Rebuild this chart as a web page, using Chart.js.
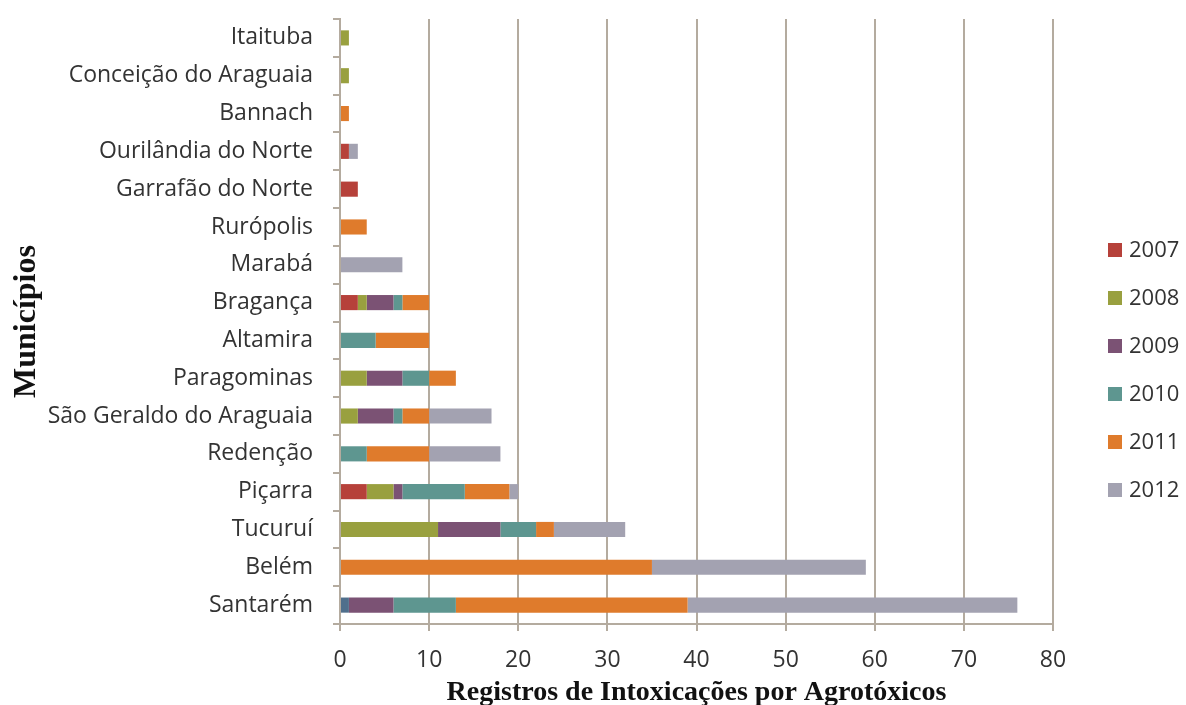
<!DOCTYPE html>
<html>
<head>
<meta charset="utf-8">
<script src="https://cdn.jsdelivr.net/npm/chart.js@4"></script>
<style>
  html, body { margin: 0; padding: 0; background: #ffffff; }
  #wrap { width: 1186px; height: 705px; }
</style>
</head>
<body>
<div id="wrap"><canvas id="c" width="1186" height="705"></canvas></div>
<script>
// Municípios (top to bottom)
const municipios = [
  'Itaituba', 'Conceição do Araguaia', 'Bannach', 'Ourilândia do Norte',
  'Garrafão do Norte', 'Rurópolis', 'Marabá', 'Bragança', 'Altamira',
  'Paragominas', 'São Geraldo do Araguaia', 'Redenção', 'Piçarra',
  'Tucuruí', 'Belém', 'Santarém'
];

// Registros por ano
const semAno = [0, 0, 0, 0, 0, 0, 0, 0, 0, 0, 0, 0, 0, 0, 0, 1];
const v2007  = [0, 0, 0, 1, 2, 0, 0, 2, 0, 0, 0, 0, 3, 0, 0, 0];
const v2008  = [1, 1, 0, 0, 0, 0, 0, 1, 0, 3, 2, 0, 3, 11, 0, 0];
const v2009  = [0, 0, 0, 0, 0, 0, 0, 3, 0, 4, 4, 0, 1, 7, 0, 5];
const v2010  = [0, 0, 0, 0, 0, 0, 0, 1, 4, 3, 1, 3, 7, 4, 0, 7];
const v2011  = [0, 0, 1, 0, 0, 3, 0, 3, 6, 3, 3, 7, 5, 2, 35, 26];
const v2012  = [0, 0, 0, 1, 0, 0, 7, 0, 0, 0, 7, 8, 1, 8, 24, 37];

const anos = ['2007', '2008', '2009', '2010', '2011', '2012'];
const xTicks = [0, 10, 20, 30, 40, 50, 60, 70, 80];

const cores = {
  semAno: '#4f6f8c',
  '2007': '#b6413a',
  '2008': '#99a03f',
  '2009': '#7b5274',
  '2010': '#5e9690',
  '2011': '#df7b2c',
  '2012': '#a3a2b1'
};

const gridColor = '#b4ab9f';
const labelFont = '"Open Sans", "Noto Sans", sans-serif';
const titleFont = '"Liberation Serif", "DejaVu Serif", serif';

const series = [semAno, v2007, v2008, v2009, v2010, v2011, v2012];
const nomes = ['sem ano', ...anos];

const datasets = series.map((vals, i) => ({
  label: nomes[i],
  data: vals,
  backgroundColor: cores[i === 0 ? 'semAno' : nomes[i]],
  borderWidth: 0,
  categoryPercentage: 1.0,
  barPercentage: 0.4
}));

// Legend drawn at the right of the plot
const sideLegend = {
  id: 'sideLegend',
  afterDraw(chart) {
    const ctx = chart.ctx;
    ctx.save();
    ctx.font = '22px ' + labelFont;
    ctx.textBaseline = 'middle';
    ctx.textAlign = 'left';
    let row = 0;
    chart.data.datasets.forEach(ds => {
      if (!anos.includes(ds.label)) return;
      const cy = 250 + row * 48;
      ctx.fillStyle = ds.backgroundColor;
      ctx.fillRect(1108, cy - 7, 14, 14);
      ctx.fillStyle = '#333333';
      ctx.fillText(ds.label, 1129, cy + 1);
      row++;
    });
    ctx.restore();
  }
};

new Chart(document.getElementById('c'), {
  type: 'bar',
  data: { labels: municipios, datasets },
  plugins: [sideLegend],
  options: {
    indexAxis: 'y',
    responsive: false,
    animation: false,
    devicePixelRatio: 1,
    layout: { padding: { top: 19, right: 133, left: 0, bottom: 0 } },
    plugins: {
      legend: { display: false },
      tooltip: { enabled: false }
    },
    scales: {
      x: {
        stacked: true,
        min: 0,
        max: 80,
        afterBuildTicks(scale) { scale.ticks = xTicks.map(v => ({ value: v })); },
        afterFit(scale) { scale.height = 81; scale.paddingLeft = 0; scale.paddingRight = 0; },
        grid: { color: gridColor, lineWidth: 2, tickLength: 7, drawTicks: true },
        border: { display: true, color: gridColor, width: 2 },
        ticks: { color: '#333333', font: { family: labelFont, size: 23 }, padding: 16 },
        title: {
          display: true,
          text: 'Registros de Intoxicações por Agrotóxicos',
          color: '#111111',
          font: { family: titleFont, size: 28, weight: 'bold', lineHeight: 0.9 },
          padding: { top: 0, bottom: 0 }
        }
      },
      y: {
        stacked: true,
        afterFit(scale) { scale.width = 340; scale.paddingTop = 0; scale.paddingBottom = 0; },
        grid: { display: true, drawOnChartArea: false, offset: true, color: gridColor, lineWidth: 2, tickLength: 7 },
        border: { display: true, color: gridColor, width: 2 },
        ticks: { color: '#333333', font: { family: labelFont, size: 23 }, padding: 20, autoSkip: false },
        title: {
          display: true,
          text: 'Municípios',
          color: '#111111',
          font: { family: titleFont, size: 32, weight: 'bold', lineHeight: 1.0 },
          padding: { top: 11, bottom: 0 }
        }
      }
    }
  }
});
</script>
</body>
</html>
